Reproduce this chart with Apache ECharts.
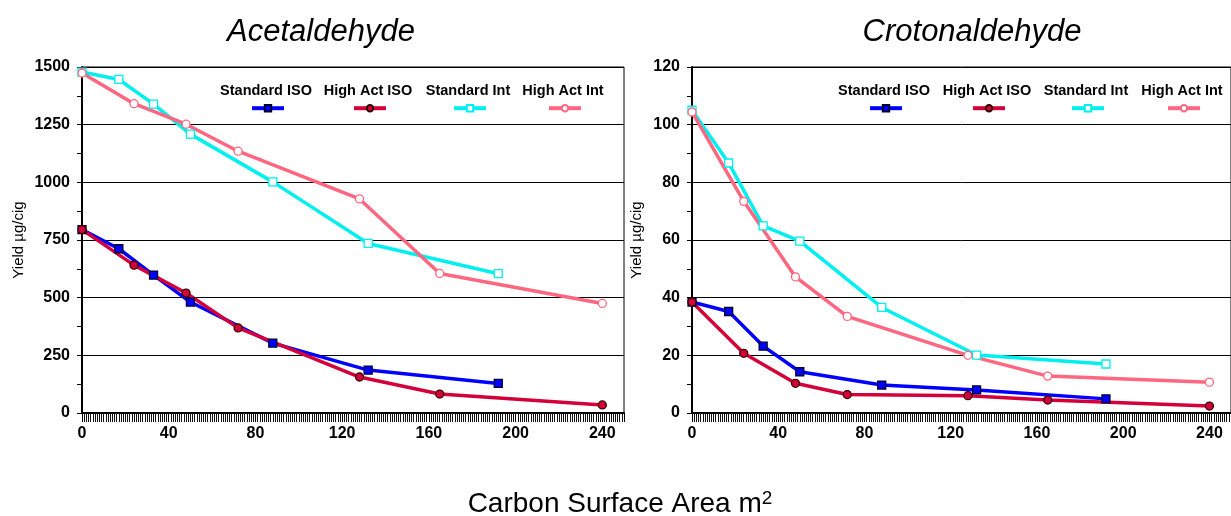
<!DOCTYPE html>
<html>
<head>
<meta charset="utf-8">
<script src="https://cdn.jsdelivr.net/npm/echarts@6/dist/echarts.min.js"></script>
<style>
  html, body { margin: 0; padding: 0; background: #fff; }
  #chart { width: 1231px; height: 516px; }
</style>
</head>
<body>
<div id="chart"></div>
<script>
// x positions (carbon surface area, m2)
const xStandard = [0, 17, 33, 50, 88, 132, 192]
const xHighAct = [0, 24, 48, 72, 128, 165, 240]

// Acetaldehyde, ug/cig
const acetStdIso = [795, 712, 598, 481, 303, 186, 128]
const acetHighIso = [795, 641, 520, 369, 156, 82, 35]
const acetStdInt = [1478, 1446, 1339, 1209, 1002, 735, 604]
const acetHighInt = [1474, 1341, 1252, 1135, 928, 605, 475]

// Crotonaldehyde, ug/cig
const crotStdIso = [38.5, 35.2, 23.2, 14.3, 9.7, 8.0, 4.9]
const crotHighIso = [38.5, 20.7, 10.3, 6.4, 6.0, 4.5, 2.4]
const crotStdInt = [105, 86.7, 64.9, 59.6, 36.6, 20.1, 17.0]
const crotHighInt = [104.4, 73.4, 47.2, 33.5, 20.0, 12.8, 10.7]

const seriesNames = ['Standard ISO', 'High Act ISO', 'Standard Int', 'High Act Int']

const pair = (xs, ys) => xs.map((x, i) => [x, ys[i]])

const styles = {
  'Standard ISO': { color: '#0000ff', symbol: 'rect', border: '#000033', fill: '#0000ff' },
  'High Act ISO': { color: '#d4003a', symbol: 'circle', border: '#330000', fill: '#d4003a' },
  'Standard Int': { color: '#00f0f0', symbol: 'rect', border: '#00f0f0', fill: '#ffffff' },
  'High Act Int': { color: '#ff6680', symbol: 'circle', border: '#ff6680', fill: '#ffffff' },
}

function makeSeries(name, idx, data) {
  const st = styles[name]
  return {
    name: name,
    type: 'line',
    xAxisIndex: idx,
    yAxisIndex: idx,
    data: data,
    symbol: st.symbol,
    symbolSize: 8,
    showAllSymbol: true,
    lineStyle: { color: st.color, width: 3.5 },
    itemStyle: { color: st.fill, borderColor: st.border, borderWidth: 1.3 },
    z: name.indexOf('ISO') >= 0 ? 3 : 2,
    animation: false,
  }
}

const fontFamily = '"Liberation Sans", Arial, sans-serif'
const axisFont = { color: '#000', fontWeight: 'bold', fontSize: 16, fontFamily: fontFamily }

function xAxis(idx) {
  return {
    type: 'value', gridIndex: idx, min: 0, max: 250, interval: 40,
    axisLine: { onZero: false, lineStyle: { color: '#000', width: 2 } },
    axisTick: { length: 9, lineStyle: { color: '#000' } },
    minorTick: { show: true, splitNumber: 40, length: 9, lineStyle: { color: '#111' } },
    axisLabel: Object.assign({ margin: 13, showMaxLabel: false,
      formatter: v => (v % 40 === 0 ? String(v) : '') }, axisFont),
    splitLine: { show: false },
  }
}

function yAxis(idx, max, interval, gap) {
  return {
    type: 'value', gridIndex: idx, min: 0, max: max, interval: interval,
    name: 'Yield µg/cig', nameLocation: 'middle', nameRotate: 90, nameGap: gap,
    nameTextStyle: { color: '#000', fontSize: 15, fontFamily: fontFamily },
    axisLine: { show: true, lineStyle: { color: '#000', width: 2 } },
    axisTick: { show: true, length: 5, lineStyle: { color: '#000' } },
    minorTick: { show: true, splitNumber: 2, length: 5, lineStyle: { color: '#000' } },
    axisLabel: Object.assign({ margin: 12, formatter: v => String(v) }, axisFont),
    splitLine: { show: true, lineStyle: { color: '#000', width: 1 } },
  }
}

// legend icon / label layout (pixel centres)
const legendCentersLeft = [266, 368, 468, 563]
const legendCentersRight = [884, 987, 1086, 1182]

const legends = []
const graphics = []
;[legendCentersLeft, legendCentersRight].forEach(centers => {
  centers.forEach((cx, i) => {
    legends.push({
      left: cx - 16, top: 104, padding: 0, itemWidth: 32, itemHeight: 8, itemGap: 0,
      data: [seriesNames[i]], formatter: () => '', selectedMode: false,
      lineStyle: { width: 4 },
    })
    graphics.push({
      type: 'text', x: cx, y: 91,
      style: { text: seriesNames[i], x: 0, y: 0, align: 'center', verticalAlign: 'middle',
        fill: '#000', font: 'bold 14.5px "Liberation Sans", Arial, sans-serif' },
    })
  })
})

const chart = echarts.init(document.getElementById('chart'))
chart.setOption({
  backgroundColor: '#fff',
  animation: false,
  title: [
    { text: 'Acetaldehyde', left: 316, top: 12, textAlign: 'center',
      textStyle: { fontSize: 31, fontStyle: 'italic', fontWeight: 'normal', color: '#000', fontFamily: fontFamily } },
    { text: 'Crotonaldehyde', left: 967, top: 12, textAlign: 'center',
      textStyle: { fontSize: 31, fontStyle: 'italic', fontWeight: 'normal', color: '#000', fontFamily: fontFamily } },
    { text: 'Carbon Surface Area m{sup|2}', left: 615, top: 484, textAlign: 'center',
      textStyle: { fontSize: 28, fontWeight: 'normal', color: '#000', fontFamily: fontFamily,
        rich: { sup: { fontSize: 19, padding: [0, 0, 12, 0], color: '#000', fontFamily: fontFamily } } } },
  ],
  legend: legends,
  graphic: graphics,
  grid: [
    { left: 82, top: 67, width: 542, height: 346, show: true, borderColor: '#000', borderWidth: 1, backgroundColor: 'transparent' },
    { left: 692, top: 67, width: 550, height: 346, show: true, borderColor: '#000', borderWidth: 1, backgroundColor: 'transparent' },
  ],
  xAxis: [xAxis(0), xAxis(1)],
  yAxis: [yAxis(0, 1500, 250, 56), yAxis(1, 120, 20, 48)],
  series: [
    makeSeries('Standard Int', 0, pair(xStandard, acetStdInt)),
    makeSeries('High Act Int', 0, pair(xHighAct, acetHighInt)),
    makeSeries('Standard ISO', 0, pair(xStandard, acetStdIso)),
    makeSeries('High Act ISO', 0, pair(xHighAct, acetHighIso)),
    makeSeries('Standard Int', 1, pair(xStandard, crotStdInt)),
    makeSeries('High Act Int', 1, pair(xHighAct, crotHighInt)),
    makeSeries('Standard ISO', 1, pair(xStandard, crotStdIso)),
    makeSeries('High Act ISO', 1, pair(xHighAct, crotHighIso)),
  ],
})
</script>
</body>
</html>
